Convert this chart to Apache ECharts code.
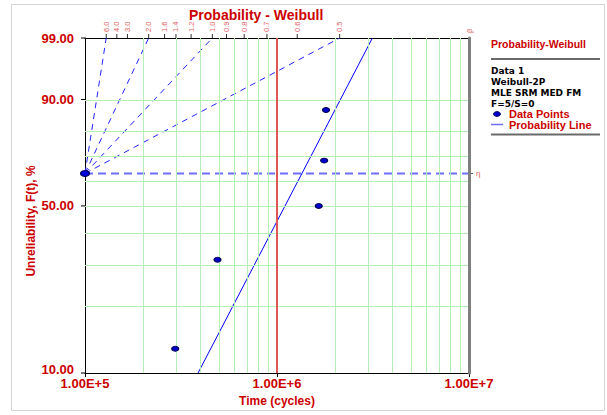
<!DOCTYPE html>
<html><head><meta charset="utf-8">
<script src="https://cdn.jsdelivr.net/npm/echarts@6/dist/echarts.min.js"></script>
<style>html,body{margin:0;padding:0;background:#fff}#c{width:607px;height:415px}</style>
</head><body><div id="c"></div>
<script>
// ---- data ----
const T_MIN = 1e5, T_MAX = 1e7;
const F_TOP = 99, F_BOTTOM = 10;
const yTickUnrel = [99, 90, 50, 10];
const gridUnrel = [20, 30, 40, 50, 60, 70, 80, 90];
const gridTimes = [2e5, 3e5, 4e5, 5e5, 6e5, 7e5, 8e5, 9e5, 2e6, 3e6, 4e6, 5e6, 6e6, 7e6, 8e6, 9e6];
const majorGridTimes = [1e6];
const betaTicks = [6.0, 4.0, 3.0, 2.0, 1.6, 1.4, 1.2, 1.0, 0.9, 0.8, 0.7, 0.6, 0.5];
const fanBetas = [6, 2, 1, 0.5];
const dataTimes = [2.95e5, 4.9e5, 1.65e6, 1.76e6, 1.80e6];
const dataUnrel = [12.94, 31.48, 50.0, 68.52, 87.06];
const lineTimes = [3.88e5, 3.14e6];
const lineUnrel = [10, 99];
const etaUnrel = 63.21;
const legendTitle = 'Probability-Weibull';
const legendLines = ['Data 1', 'Weibull-2P', 'MLE SRM MED FM', 'F=5/S=0'];

// Weibull probability paper transform
function wy(f) { return Math.log(-Math.log(1 - f / 100)); }
const Y_MIN = wy(F_BOTTOM), Y_MAX = wy(F_TOP), Y_ETA = wy(etaUnrel);
const FONT = '"Liberation Sans", Arial, sans-serif';
const VFONT = '"DejaVu Sans", Verdana, sans-serif';
const RED = '#cc0000';

const chart = echarts.init(document.getElementById('c'), null, {renderer: 'svg'});

const fanSeries = fanBetas.map(b => ({
  type: 'line', z: 3, silent: true, symbol: 'none', clip: false,
  lineStyle: {color: '#2424ff', width: 1, type: [6, 5]},
  data: [[T_MIN, Y_ETA], [T_MIN * Math.exp((Y_MAX - Y_ETA) / b), Y_MAX]]
}));

function txt(o) {
  o.style.align = o.style.textAlign; o.style.verticalAlign = o.style.textVerticalAlign;
  return o;
}

const option = {
  animation: false,
  title: {text: 'Probability - Weibull', left: 184, top: 3,
    textStyle: {color: RED, fontWeight: 'bold', fontSize: 14, fontFamily: FONT}},
  grid: {left: 85, top: 38, width: 384, height: 335},
  xAxis: [
    {type: 'log', logBase: 10, min: T_MIN, max: T_MAX, position: 'bottom',
      axisLine: {show: true, onZero: false, lineStyle: {color: '#000', width: 1}},
      axisTick: {show: true, length: 4, lineStyle: {color: '#000'}},
      minorTick: {show: false}, splitLine: {show: false},
      axisLabel: {formatter: v => Number(v).toExponential(2).toUpperCase(), color: RED,
        fontWeight: 'bold', fontSize: 13, fontFamily: FONT, margin: 4, showMinLabel: true, showMaxLabel: true},
      name: 'Time (cycles)', nameLocation: 'middle', nameGap: 22,
      nameTextStyle: {color: RED, fontWeight: 'bold', fontSize: 12, fontFamily: FONT}},
    {type: 'log', logBase: 10, min: T_MIN, max: T_MAX, position: 'top',
      axisLine: {show: true, onZero: false, lineStyle: {color: '#000', width: 1}},
      axisTick: {show: false}, axisLabel: {show: false}, splitLine: {show: false}}
  ],
  yAxis: [
    {type: 'value', min: Y_MIN, max: Y_MAX, position: 'left',
      axisLine: {show: true, onZero: false, lineStyle: {color: '#000', width: 1}},
      axisTick: {show: false}, axisLabel: {show: false}, splitLine: {show: false}},
    {type: 'value', min: Y_MIN, max: Y_MAX, position: 'right', z: 10,
      axisLine: {show: true, onZero: false, lineStyle: {color: '#7f7f7f', width: 3}},
      axisTick: {show: false}, axisLabel: {show: false}, splitLine: {show: false}}
  ],
  graphic: [
    {type: 'rect', shape: {x: 11.5, y: 4.5, width: 593, height: 406}, style: {fill: 'none', stroke: '#d4d4d4', lineWidth: 1}, z: -1},
    txt({type: 'text', x: 30.5, y: 221, rotation: Math.PI / 2,
      style: {text: 'Unreliability, F(t), %', fill: RED, font: 'bold 12px ' + FONT, textAlign: 'center', textVerticalAlign: 'middle'}}),
    txt({type: 'text', x: 491, y: 44, style: {text: legendTitle, fill: RED, font: 'bold 10.5px ' + FONT, textAlign: 'left', textVerticalAlign: 'middle'}}),
    {type: 'line', shape: {x1: 491, y1: 59, x2: 600, y2: 59}, style: {stroke: '#6a6a6a', lineWidth: 2}},
    ...legendLines.map((s, i) => txt({type: 'text', x: 491, y: 70.5 + i * 11,
      style: {text: s, fill: '#000', font: 'bold 9px ' + VFONT, textAlign: 'left', textVerticalAlign: 'middle'}})),
    {type: 'circle', x: 497, y: 114, scaleY: 0.7, shape: {cx: 0, cy: 0, r: 3.5}, style: {fill: '#0000c8', stroke: '#000050', lineWidth: 1}},
    txt({type: 'text', x: 509, y: 114, style: {text: 'Data Points', fill: RED, font: 'bold 11px ' + FONT, textAlign: 'left', textVerticalAlign: 'middle'}}),
    {type: 'line', shape: {x1: 491, y1: 124.5, x2: 503, y2: 124.5}, style: {stroke: '#6f6fff', lineWidth: 1.5}},
    txt({type: 'text', x: 509, y: 124.5, style: {text: 'Probability Line', fill: RED, font: 'bold 11px ' + FONT, textAlign: 'left', textVerticalAlign: 'middle'}}),
    {type: 'line', shape: {x1: 491, y1: 134.5, x2: 600, y2: 134.5}, style: {stroke: '#6a6a6a', lineWidth: 2}}
  ],
  series: [
    {type: 'line', z: 1, silent: true, data: [],
      markLine: {silent: true, symbol: 'none', label: {show: false}, animation: false,
        lineStyle: {color: '#b4f0b4', width: 1, type: 'solid'},
        data: gridUnrel.map(f => ({yAxis: wy(f)})).concat(gridTimes.map(t => ({xAxis: t})))}},
    {type: 'line', z: 2, silent: true, data: [],
      markLine: {silent: true, symbol: 'none', label: {show: false}, animation: false,
        lineStyle: {color: '#e05555', width: 2, type: 'solid'},
        data: majorGridTimes.map(t => ({xAxis: t}))}},
    ...fanSeries,
    {type: 'line', z: 3, silent: true, symbol: 'none', clip: false,
      lineStyle: {color: '#6f6fff', width: 2, type: [8, 5]},
      data: [[T_MIN, Y_ETA], [T_MAX, Y_ETA]]},
    {type: 'line', z: 4, silent: true, symbol: 'none', clip: false,
      lineStyle: {color: '#0000ff', width: 1},
      data: lineTimes.map((t, i) => [t, wy(lineUnrel[i])])},
    {type: 'scatter', z: 5, silent: true, clip: false, symbol: 'circle', symbolSize: [7, 5],
      itemStyle: {color: '#0000c8', borderColor: '#000050', borderWidth: 1, opacity: 1},
      data: dataTimes.map((t, i) => [t, wy(dataUnrel[i])])},
    {type: 'scatter', z: 6, silent: true, clip: false, symbol: 'circle', symbolSize: [9, 6],
      itemStyle: {color: '#0000d8', borderColor: '#000050', borderWidth: 1, opacity: 1},
      data: [[T_MIN, Y_ETA]]},
    // y tick labels
    {type: 'custom', z: 7, silent: true, clip: false,
      data: yTickUnrel.map(f => [T_MIN, wy(f)]),
      renderItem: (params, api) => {
        const p = api.coord([api.value(0), api.value(1)]);
        const lift = api.value(1) <= Y_MIN + 1e-9 ? 4 : 0;
        return {type: 'group', children: [
          {type: 'line', shape: {x1: p[0] - 4, y1: p[1], x2: p[0], y2: p[1]}, style: {stroke: '#000', lineWidth: 1}},
          txt({type: 'text', x: p[0] - 11, y: p[1] - lift, style: {text: yTickUnrel[params.dataIndex].toFixed(2), fill: RED,
            font: 'bold 13px ' + FONT, textAlign: 'right', textVerticalAlign: 'middle'}})
        ]};
      }},
    // beta scale on top
    {type: 'custom', z: 7, silent: true, clip: false,
      data: betaTicks.map(b => [T_MIN * Math.exp((Y_MAX - Y_ETA) / b), Y_MAX]),
      renderItem: (params, api) => {
        const p = api.coord([api.value(0), api.value(1)]);
        return {type: 'group', children: [
          {type: 'line', shape: {x1: p[0], y1: p[1], x2: p[0], y2: p[1] - 4}, style: {stroke: '#333', lineWidth: 1}},
          txt({type: 'text', x: p[0], y: p[1] - 6, rotation: Math.PI / 2, style: {text: betaTicks[params.dataIndex].toFixed(1), fill: '#e06060',
            font: '7.5px ' + FONT, textAlign: 'left', textVerticalAlign: 'middle'}})
        ]};
      }},
    // beta / eta markers on the right edge
    {type: 'custom', z: 7, silent: true, clip: false,
      data: [[T_MAX, Y_MAX, 0], [T_MAX, Y_ETA, 1]],
      renderItem: (params, api) => {
        const p = api.coord([api.value(0), api.value(1)]);
        if (api.value(2) === 0) {
          return txt({type: 'text', x: p[0], y: p[1] - 5, rotation: Math.PI / 2, style: {text: 'β', fill: '#e06060',
            font: '7.5px ' + FONT, textAlign: 'left', textVerticalAlign: 'middle'}});
        }
        return {type: 'group', children: [
          {type: 'line', shape: {x1: p[0], y1: p[1], x2: p[0] + 4, y2: p[1]}, style: {stroke: '#555', lineWidth: 1}},
          txt({type: 'text', x: p[0] + 7, y: p[1], style: {text: 'η', fill: '#e06060',
            font: '8px ' + FONT, textAlign: 'left', textVerticalAlign: 'middle'}})
        ]};
      }}
  ]
};
chart.setOption(option);
</script>
</body></html>
